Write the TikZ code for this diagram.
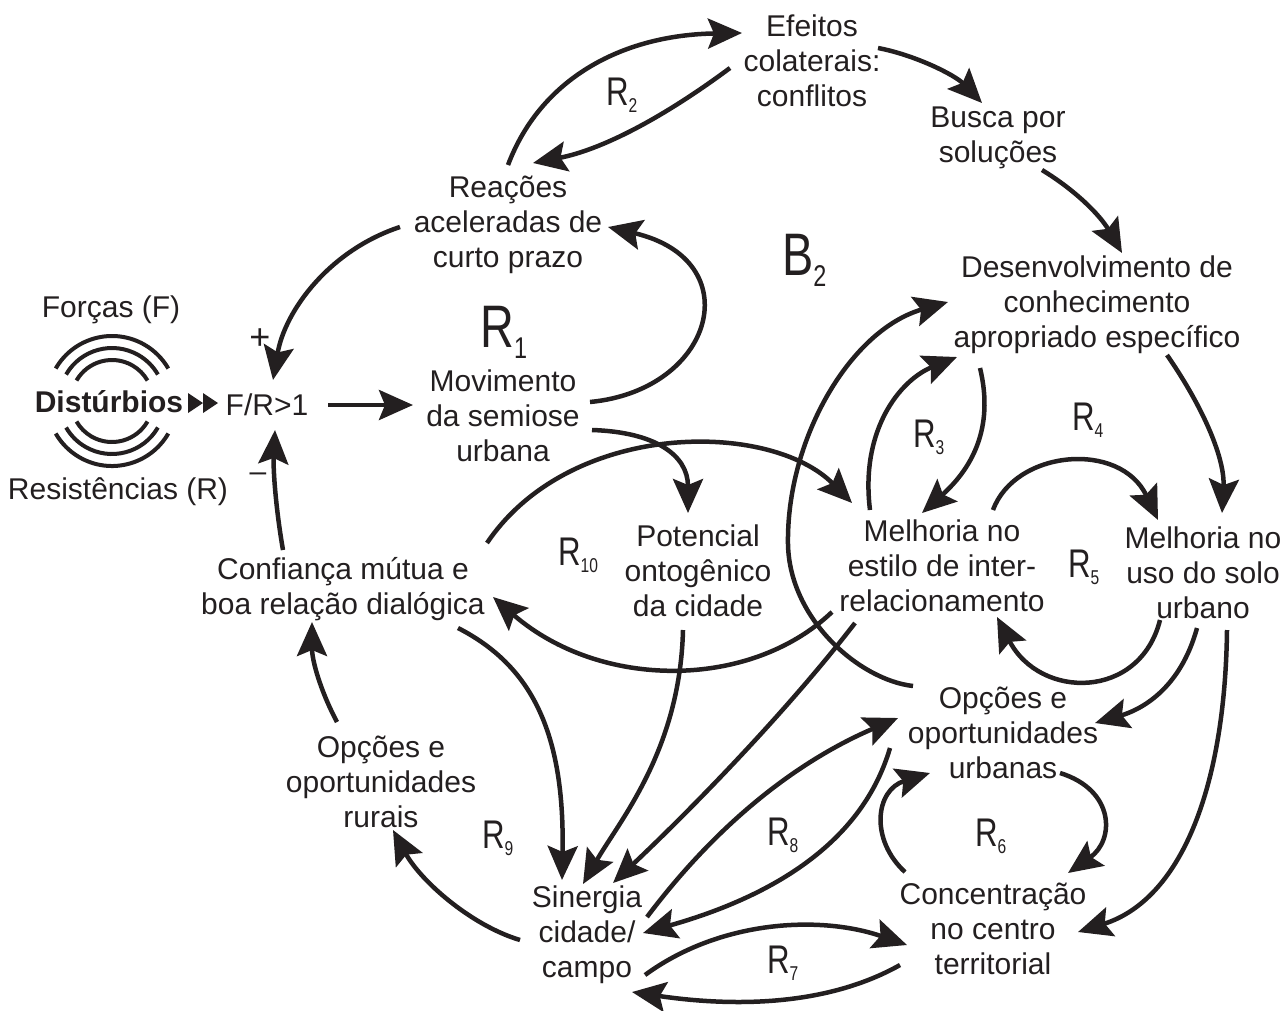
\documentclass[tikz,border=0pt]{standalone}
\usepackage{fontspec}
\setmainfont{Liberation Sans}
\newfontfamily\rfont[FakeStretch=0.78]{Liberation Sans}
\usetikzlibrary{arrows.meta}
\definecolor{ink}{HTML}{231F20}
\newcommand\RL[1]{{\rfont\fontsize{40}{40}\selectfont R\raisebox{-7pt}{\fontsize{20}{20}\selectfont #1}}}
\newcommand\RB[2]{{\rfont\fontsize{60}{60}\selectfont #1\raisebox{-11pt}{\fontsize{30}{30}\selectfont #2}}}
\begin{document}
\begin{tikzpicture}[x=1pt,y=-1pt,
  txt/.style={align=center,inner sep=0pt,text=ink,font=\fontsize{30}{35}\selectfont},
  lbl/.style={anchor=base west,inner sep=0pt,text=ink},
  conn/.style={draw=ink,line width=4.5pt,-{Stealth[length=34pt,width=30pt,inset=6pt]}},
  arcst/.style={draw=ink,line width=4pt}]
\useasboundingbox (0,0) rectangle (1287,1010);
% nodes
\node[txt] (efe) at (812,61) {Efeitos\\colaterais:\\conflitos};
\node[txt] (bus) at (998,138) {Busca por\\soluções};
\node[txt] (reac) at (508,225) {Reações\\aceleradas de\\curto prazo};
\node[txt] (des) at (1097,305) {Desenvolvimento de\\conhecimento\\apropriado específico};
\node[txt] (mov) at (503,416) {Movimento\\da semiose\\urbana};
\node[txt] (fr) at (267,405) {F/R>1};
\node[txt,font=\fontsize{30}{35}\selectfont\bfseries] (dist) at (109,402) {Distúrbios};
\node[txt] (forc) at (111,310) {Forças (F)};
\node[txt] (resi) at (118,492) {Resistências (R)};
\node[txt,font=\fontsize{36}{36}\selectfont] (plus) at (260,339) {+};
\node[txt] (minus) at (258,477) {–};
\node[txt] (mel) at (942,566) {Melhoria no\\estilo de inter-\\relacionamento};
\node[txt] (uso) at (1203,573) {Melhoria no\\uso do solo\\urbano};
\node[txt] (pot) at (698,571) {Potencial\\ontogênico\\da cidade};
\node[txt] (conf) at (343,589) {Confiança mútua e\\boa relação dialógica};
\node[txt] (opu) at (1003,733) {Opções e\\oportunidades\\urbanas};
\node[txt] (opr) at (381,782) {Opções e\\oportunidades\\rurais};
\node[txt] (sin) at (587,935) {Sinergia\\cidade/\\campo};
\node[txt] (con) at (993,929) {Concentração\\no centro\\territorial};
% loop labels
\node[lbl] (r1) at (480,347) {\RB{R}{1}};
\node[lbl] (b2) at (782,275) {\RB{B}{2}};
\node[lbl] (r2) at (606,105) {\RL{2}};
\node[lbl] (r3) at (913,447) {\RL{3}};
\node[lbl] (r4) at (1072,430) {\RL{4}};
\node[lbl] (r5) at (1068,577) {\RL{5}};
\node[lbl] (r6) at (975,846) {\RL{6}};
\node[lbl] (r7) at (767,973) {\RL{7}};
\node[lbl] (r8) at (767,845) {\RL{8}};
\node[lbl] (r9) at (482,848) {\RL{9}};
\node[lbl] (r10) at (558,565) {\RL{10}};
% disturbance arcs
\foreach \r in {41,53,65}{
  \draw[arcst] (112,401) ++(210:\r) arc[start angle=210,end angle=330,radius=\r];
  \draw[arcst] (112,401) ++(30:\r) arc[start angle=30,end angle=150,radius=\r];
}
\fill[ink] (188,393) -- (203,403) -- (188,413) -- cycle;
\fill[ink] (203,393) -- (218,403) -- (203,413) -- cycle;
% connectors
\draw[conn] ([shift={(0,-60)}]reac.center) .. controls (540,80) and (620,35) .. ([shift={(-70,-28)}]efe.center);
\draw[conn] ([shift={(-82,7)}]efe.center) .. controls (660,120) and (600,150) .. ([shift={(25,-62)}]reac.center);
\draw[conn] ([shift={(66,-13)}]efe.center) .. controls (915,55) and (955,75) .. ([shift={(-16,-35)}]bus.center);
\draw[conn] ([shift={(44,32)}]bus.center) .. controls (1075,190) and (1100,215) .. ([shift={(25,-52)}]des.center);
\draw[conn] ([shift={(-108,2)}]reac.center) .. controls (330,250) and (285,310) .. ([shift={(6,-25)}]fr.center);
\draw[conn] ([shift={(61,0)}]fr.center) -- ([shift={(-90,-11)}]mov.center);
\draw[conn] ([shift={(87,-14)}]mov.center) .. controls (715,390) and (750,260) .. ([shift={(100,2)}]reac.center);
\draw[conn] ([shift={(89,14)}]mov.center) .. controls (655,432) and (688,455) .. ([shift={(-10,-58)}]pot.center);
\draw[conn] ([shift={(144,-46)}]conf.center) .. controls (570,420) and (770,420) .. ([shift={(-90,-63)}]mel.center);
\draw[conn] ([shift={(-110,46)}]mel.center) .. controls (750,690) and (600,690) .. ([shift={(150,8)}]conf.center);
\draw[conn] ([shift={(115,39)}]conf.center) .. controls (530,665) and (565,730) .. ([shift={(-25,-55)}]sin.center);
\draw[conn] ([shift={(-15,59)}]pot.center) .. controls (680,750) and (620,820) .. ([shift={(-4,-51)}]sin.center);
\draw[conn] ([shift={(-87,57)}]mel.center) .. controls (780,720) and (680,820) .. ([shift={(26,-52)}]sin.center);
\draw[conn] ([shift={(-90,-47)}]opu.center) .. controls (860,680) and (790,620) .. (788,545) .. controls (786,440) and (850,330) .. ([shift={(-149,-3)}]des.center);
\draw[conn] ([shift={(-72,-56)}]mel.center) .. controls (860,430) and (900,380) .. ([shift={(-140,52)}]des.center);
\draw[conn] ([shift={(-117,63)}]des.center) .. controls (995,430) and (970,470) .. ([shift={(-20,-53)}]mel.center);
\draw[conn] ([shift={(51,-56)}]mel.center) .. controls (1015,450) and (1120,440) .. ([shift={(-45,-53)}]uso.center);
\draw[conn] ([shift={(70,50)}]des.center) .. controls (1205,410) and (1225,460) .. ([shift={(19,-60)}]uso.center);
\draw[conn] ([shift={(-43,47)}]uso.center) .. controls (1140,700) and (1040,700) .. ([shift={(55,51)}]mel.center);
\draw[conn] ([shift={(-6,55)}]uso.center) .. controls (1180,690) and (1140,710) .. ([shift={(92,-10)}]opu.center);
\draw[conn] ([shift={(24,57)}]uso.center) .. controls (1225,790) and (1180,900) .. ([shift={(85,3)}]con.center);
\draw[conn] ([shift={(57,40)}]opu.center) .. controls (1115,790) and (1115,840) .. ([shift={(75,-56)}]con.center);
\draw[conn] ([shift={(-88,-57)}]con.center) .. controls (870,840) and (875,790) .. ([shift={(-73,40)}]opu.center);
\draw[conn] ([shift={(60,-18)}]sin.center) .. controls (720,820) and (800,760) .. ([shift={(-105,-15)}]opu.center);
\draw[conn] ([shift={(-113,15)}]opu.center) .. controls (860,850) and (760,900) .. ([shift={(56,-2)}]sin.center);
\draw[conn] ([shift={(58,40)}]sin.center) .. controls (720,920) and (820,915) .. ([shift={(-86,16)}]con.center);
\draw[conn] ([shift={(-93,36)}]con.center) .. controls (820,1010) and (720,1005) .. ([shift={(45,57)}]sin.center);
\draw[conn] ([shift={(-67,5)}]sin.center) .. controls (470,925) and (420,880) .. ([shift={(12,48)}]opr.center);
\draw[conn] ([shift={(-44,-60)}]opr.center) .. controls (320,690) and (312,660) .. ([shift={(-31,33)}]conf.center);
\draw[conn] ([shift={(-60,-39)}]conf.center) .. controls (276,510) and (273,470) .. ([shift={(8,25)}]fr.center);
\end{tikzpicture}
\end{document}
